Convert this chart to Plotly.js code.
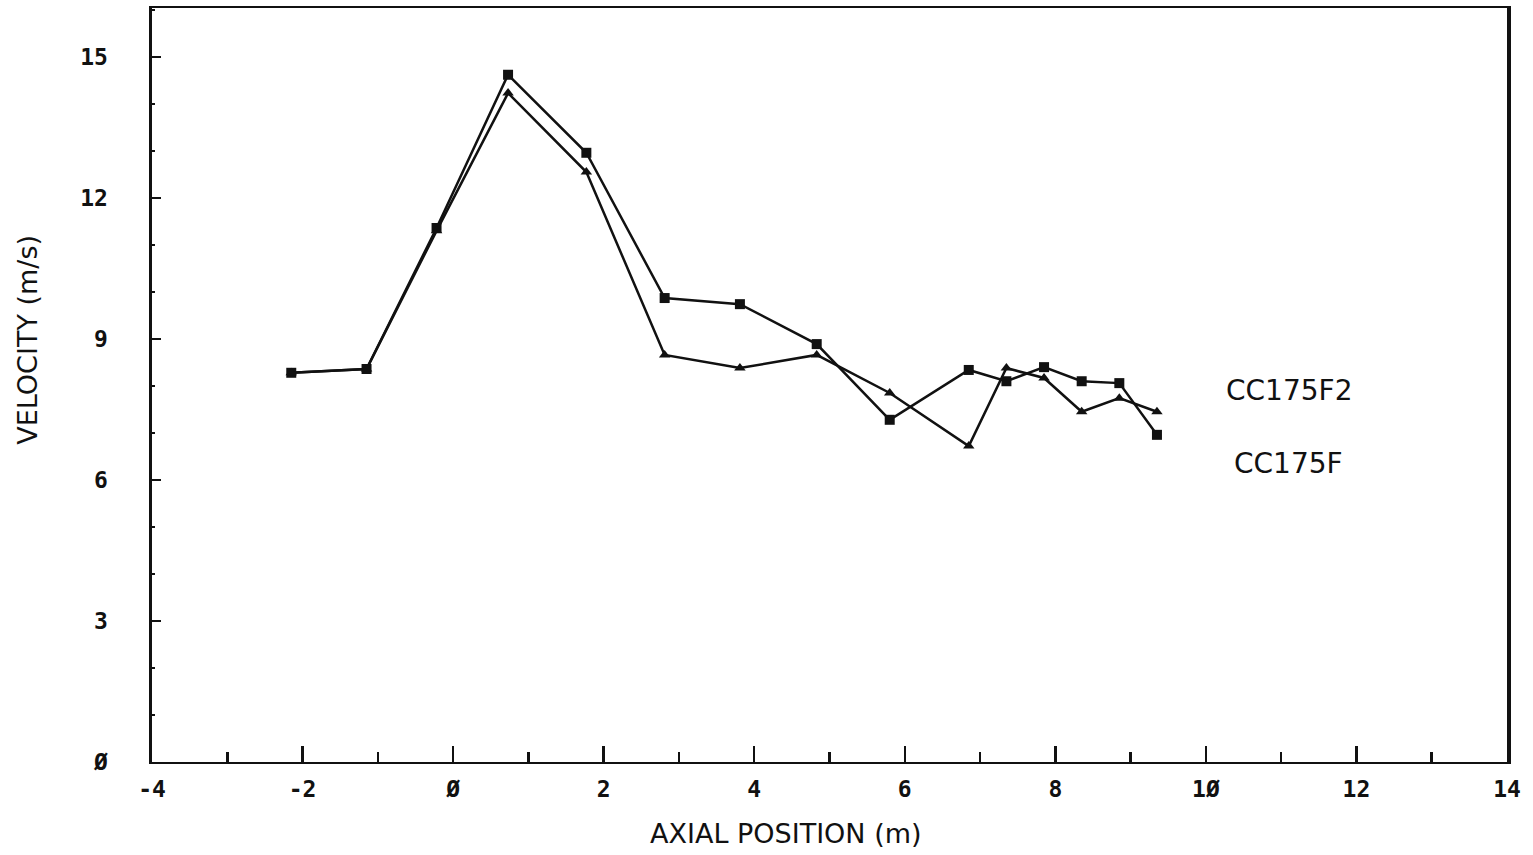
<!DOCTYPE html>
<html>
<head>
<meta charset="utf-8">
<script src="https://cdn.plot.ly/plotly-3.0.1.min.js"></script>
<style>html,body{margin:0;padding:0;background:#fff;}#chart{width:1533px;height:855px;}</style>
</head>
<body>
<div id="chart"></div>
<script>
// Axial positions (m)
const axialPosition = [-2.15, -1.15, -0.22, 0.73, 1.77, 2.81, 3.81, 4.83, 5.80, 6.85, 7.35, 7.85, 8.35, 8.85, 9.35];
// Velocity (m/s), square-marker series
const velocitySquares = [8.28, 8.36, 11.36, 14.62, 12.96, 9.87, 9.74, 8.89, 7.28, 8.34, 8.10, 8.40, 8.10, 8.06, 6.96];
// Velocity (m/s), triangle-marker series
const velocityTriangles = [8.28, 8.36, 11.30, 14.23, 12.55, 8.66, 8.38, 8.66, 7.85, 6.72, 8.38, 8.17, 7.45, 7.74, 7.45];

const seriesLabels = ["CC175F2", "CC175F"];

const xTickVals = [-4, -2, 0, 2, 4, 6, 8, 10, 12, 14];
const xTickText = ["-4", "-2", "Ø", "2", "4", "6", "8", "1Ø", "12", "14"];
const yTickVals = [0, 3, 6, 9, 12, 15];
const yTickText = ["Ø", "3", "6", "9", "12", "15"];

const tickFont = {family: "DejaVu Sans Mono, Liberation Mono, monospace", size: 23, color: "#111", weight: "bold"};
const titleFont = {family: "DejaVu Sans, Liberation Sans, sans-serif", size: 27, color: "#111"};
const labelFont = {family: "DejaVu Sans, Liberation Sans, sans-serif", size: 28, color: "#111"};

const traces = [
  {
    x: axialPosition, y: velocitySquares, type: "scatter", mode: "lines+markers",
    name: seriesLabels[0],
    line: {color: "#111", width: 2.5},
    marker: {symbol: "square", size: 10, color: "#111"}
  },
  {
    x: axialPosition, y: velocityTriangles, type: "scatter", mode: "lines+markers",
    name: seriesLabels[1],
    line: {color: "#111", width: 2.5},
    marker: {symbol: "triangle-up", size: 10, color: "#111"}
  }
];

const layout = {
  width: 1533, height: 855,
  margin: {l: 152, r: 26, t: 8, b: 93},
  paper_bgcolor: "#fff", plot_bgcolor: "#fff",
  showlegend: false,
  xaxis: {
    range: [-4, 14], tickvals: xTickVals, ticktext: xTickText,
    ticks: "inside", ticklen: 16, tickwidth: 2.5, tickcolor: "#111",
    minor: {dtick: 1, tick0: 0, ticks: "inside", ticklen: 10, tickwidth: 2.5, tickcolor: "#111"},
    showgrid: false, zeroline: false,
    showline: true, linewidth: 1.8, linecolor: "#111", mirror: true,
    tickfont: tickFont, ticklabelstandoff: 6
  },
  yaxis: {
    range: [0, 16.04], tickvals: yTickVals, ticktext: yTickText,
    ticks: "inside", ticklen: 9, tickwidth: 1.5, tickcolor: "#111",
    minor: {dtick: 1, tick0: 0, ticks: "inside", ticklen: 3, tickwidth: 1.5, tickcolor: "#111"},
    showgrid: false, zeroline: false,
    showline: true, linewidth: 3.5, linecolor: "#111", mirror: true,
    tickfont: tickFont, ticklabelstandoff: 36
  },
  annotations: [
    {text: "AXIAL POSITION (m)", xref: "paper", yref: "paper", x: 0.468, y: -0.095,
     xanchor: "center", yanchor: "middle", showarrow: false, font: titleFont},
    {text: "VELOCITY (m/s)", xref: "paper", yref: "paper", x: -0.0915, y: 0.56,
     xanchor: "center", yanchor: "middle", textangle: -90, showarrow: false, font: titleFont},
    {text: seriesLabels[0], xref: "x", yref: "y", x: 11.1, y: 7.9,
     xanchor: "center", yanchor: "middle", showarrow: false, font: labelFont},
    {text: seriesLabels[1], xref: "x", yref: "y", x: 11.1, y: 6.35,
     xanchor: "center", yanchor: "middle", showarrow: false, font: labelFont}
  ]
};

Plotly.newPlot("chart", traces, layout, {staticPlot: true, displayModeBar: false});
</script>
</body>
</html>
